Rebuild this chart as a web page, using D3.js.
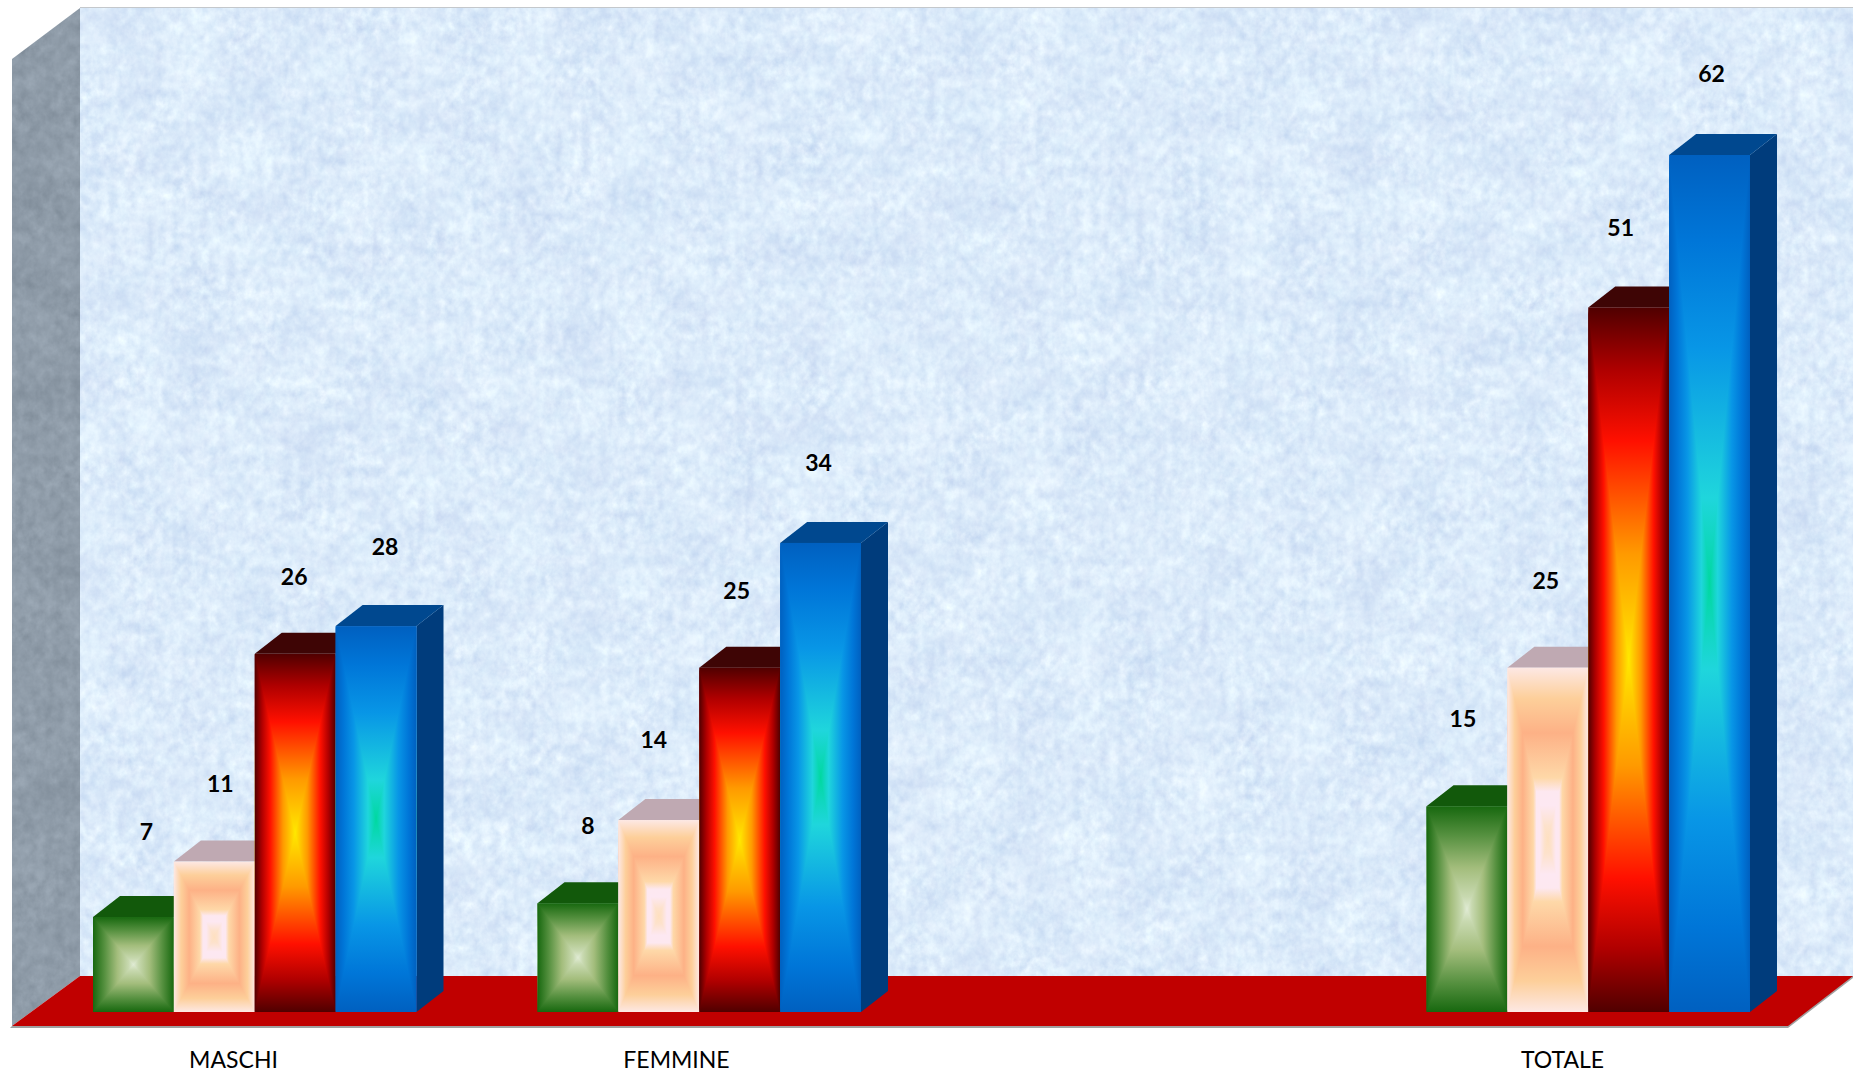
<!DOCTYPE html>
<html>
<head>
<meta charset="utf-8">
<script src="https://cdn.jsdelivr.net/npm/d3@7"></script>
<style>
    html, body { margin: 0; padding: 0; background: #fff; }
    svg { display: block; }
    text { font-family: Lato, "Open Sans", sans-serif; fill: #000; }
</style>
</head>
<body>
<script>
// the third category is empty in the source chart, that is the hole before TOTALE
let categories = ["MASCHI", "FEMMINE", "", "TOTALE"];
let seriesKeys = ["verde", "pesca", "fuoco", "azzurro"];
let verdeValues = [7, 8, null, 15];
let pescaValues = [11, 14, null, 25];
let fuocoValues = [26, 25, null, 51];
let azzurroValues = [28, 34, null, 62];
let valueDomain = [0, 62];

let width = 1853, height = 1074;
let depthX = 27, depthY = 21;
let floorFront = 1026, floorBack = 976, barBase = 1012;
let wallLeft = 12, wallBack = 80, wallTop = 8, wallTopFront = 59;
let groupOffset = 81, groupWidth = 323.5;

let styles = {
    verde: {
        stops: [[0, "#e0ebd4"], [0.12, "#c8d9b0"], [0.4, "#a3bd7c"], [0.72, "#55903f"], [1, "#17680f"]],
        top: "#12590b", side: "#0f4a09"
    },
    pesca: {
        stops: [[0, "#fee0c0"], [0.08, "#fde2cc"], [0.2, "#fde8f2"], [0.28, "#fde8f0"], [0.36, "#fed8a8"], [0.62, "#fdb186"], [0.82, "#fdcf9a"], [1, "#fde8e4"]],
        top: "#bfa9b2", side: "#a8949c"
    },
    fuoco: {
        stops: [[0, "#ffe800"], [0.3, "#ff9a00"], [0.62, "#ff1000"], [0.82, "#b00000"], [1, "#500000"]],
        top: "#3e0505", side: "#2e0303"
    },
    azzurro: {
        stops: [[0, "#00d8a0"], [0.2, "#1fd6dc"], [0.55, "#0896e6"], [0.8, "#0076d8"], [1, "#0060c0"]],
        top: "#00488f", side: "#003c7c"
    }
};

// data labels were dragged by hand in the original, [dx, dy] from the bar centre / top
let labelNudge = {
    verde: [[13, -85], [10, -77], null, [-4, -87]],
    pesca: [[6, -78], [-5, -80], null, [-2, -87]],
    fuoco: [[-1, -77], [-3, -77], null, [-8, -80]],
    azzurro: [[9, -79], [-2, -80], null, [2, -81]]
};

let seriesValues = { verde: verdeValues, pesca: pescaValues, fuoco: fuocoValues, azzurro: azzurroValues };

let x0 = d3.scaleBand().domain(categories).range([wallLeft, 1790]);
let x1 = d3.scaleBand().domain(seriesKeys).range([0, groupWidth]);
// labels sit on a slightly tighter spacing than the bars
let xLabel = d3.scaleBand().domain(categories).range([wallLeft, 1784]);
let y = d3.scaleLinear().domain(valueDomain).range([1014, 155]);

let svg = d3.select("body").append("svg").attr("width", width).attr("height", height);
let defs = svg.append("defs");

let addPaper = (id, rgb) => {
    let f = defs.append("filter").attr("id", id)
        .attr("filterUnits", "userSpaceOnUse")
        .attr("x", 0).attr("y", 0).attr("width", width).attr("height", height)
        .attr("color-interpolation-filters", "sRGB");
    f.append("feTurbulence").attr("type", "fractalNoise").attr("baseFrequency", "0.018 0.022")
        .attr("numOctaves", 3).attr("seed", 4).attr("result", "blotch");
    f.append("feTurbulence").attr("type", "fractalNoise").attr("baseFrequency", "0.11 0.09")
        .attr("numOctaves", 4).attr("seed", 11).attr("result", "fibre");
    f.append("feComposite").attr("in", "blotch").attr("in2", "fibre")
        .attr("operator", "arithmetic").attr("k1", 0).attr("k2", 0.4).attr("k3", 0.6).attr("k4", 0)
        .attr("result", "mix");
    f.append("feColorMatrix").attr("in", "mix").attr("type", "matrix").attr("values", rgb).attr("result", "paper");
    f.append("feComposite").attr("in", "paper").attr("in2", "SourceAlpha").attr("operator", "in");
};
addPaper("paperWall", "0.26 0.04 0 0 0.71  0.22 0 0 0 0.81  0.10 0 0 0 0.93  0 0 0 0 1");
addPaper("paperSide", "0.18 0 0 0 0.47  0.18 0 0 0 0.52  0.18 0 0 0 0.57  0 0 0 0 1");

// one pair of linear gradients per bar, the corners make the mitred "path" look
let addGradient = (id, stops, axis, a, b) => {
    let g = defs.append("linearGradient").attr("id", id).attr("gradientUnits", "userSpaceOnUse");
    if (axis == "x") g.attr("x1", a).attr("x2", b).attr("y1", 0).attr("y2", 0);
    else g.attr("y1", a).attr("y2", b).attr("x1", 0).attr("x2", 0);
    g.selectAll("stop").data(stops).enter().append("stop")
        .attr("offset", d => d[0]).attr("stop-color", d => d[1]);
};
let mirror = (stops) => {
    let rev = stops.map(d => [(1 - d[0]) / 2, d[1]]).reverse();
    let fwd = stops.slice(1).map(d => [(1 + d[0]) / 2, d[1]]);
    return rev.concat(fwd);
};

let poly = (pts) => pts.map(p => p.join(",")).join(" ");

// walls and floor
svg.append("rect").attr("x", wallBack).attr("y", wallTop)
    .attr("width", width - wallBack).attr("height", floorBack - wallTop)
    .attr("filter", "url(#paperWall)");
svg.append("line").attr("x1", wallBack).attr("x2", width).attr("y1", wallTop - 0.5).attr("y2", wallTop - 0.5)
    .attr("stroke", "#c4c8cc").attr("stroke-width", 1);
svg.append("polygon")
    .attr("points", poly([[wallLeft, wallTopFront], [wallBack, wallTop], [wallBack, floorBack], [wallLeft, floorFront]]))
    .attr("filter", "url(#paperSide)");
svg.append("polygon")
    .attr("points", poly([[wallLeft - 2, floorFront + 2], [width - 65, floorFront + 2], [width, floorBack + 2], [width, floorBack], [wallLeft, floorFront]]))
    .attr("fill", "#a0a0a0");
svg.append("polygon")
    .attr("points", poly([[wallLeft, floorFront], [wallBack, floorBack], [width, floorBack], [width - 65, floorFront]]))
    .attr("fill", "#c00000");

// bars
let bars = [];
categories.forEach((c, ci) => {
    seriesKeys.forEach(k => {
        let v = seriesValues[k][ci];
        if (v == null) return;
        bars.push({ category: c, ci: ci, key: k, value: v });
    });
});

let gBars = svg.append("g").classed("bars", true);
let gBar = gBars.selectAll("g.bar").data(bars).enter().append("g")
    .attr("class", d => `bar ${d.key}`)
    .each(function (d, i) {
        let g = d3.select(this);
        let style = styles[d.key];
        let l = x0(d.category) + groupOffset + x1(d.key), w = x1.bandwidth();
        let r = l + w, t = y(d.value), b = barBase;
        let stops = mirror(style.stops);
        addGradient(`h${i}`, stops, "x", l, r);
        addGradient(`v${i}`, stops, "y", t, b);
        g.append("polygon")
            .attr("points", poly([[r, t], [r + depthX, t - depthY], [r + depthX, b - depthY], [r, b]]))
            .attr("fill", style.side);
        g.append("polygon")
            .attr("points", poly([[l, t], [l + depthX, t - depthY], [r + depthX, t - depthY], [r, t]]))
            .attr("fill", style.top);
        g.append("rect").attr("x", l).attr("y", t).attr("width", w).attr("height", b - t)
            .attr("fill", `url(#v${i})`);
        let cx = l + w / 2, cy = (t + b) / 2;
        g.append("polygon").attr("points", poly([[l, t], [cx, cy], [l, b]])).attr("fill", `url(#h${i})`);
        g.append("polygon").attr("points", poly([[r, t], [cx, cy], [r, b]])).attr("fill", `url(#h${i})`);
    });

// value labels
svg.append("g").classed("labels", true)
    .selectAll("text").data(bars).enter().append("text")
    .attr("x", d => x0(d.category) + groupOffset + x1(d.key) + x1.bandwidth() / 2 + labelNudge[d.key][d.ci][0])
    .attr("y", d => y(d.value) + labelNudge[d.key][d.ci][1])
    .attr("dy", "0.36em")
    .attr("text-anchor", "middle")
    .attr("font-size", 23)
    .attr("font-weight", 700)
    .text(d => d.value);

// category axis, labels only
svg.append("g").classed("axis", true)
    .selectAll("text").data(categories.filter(c => c != "")).enter().append("text")
    .attr("x", d => xLabel(d) + xLabel.bandwidth() / 2)
    .attr("y", 1068)
    .attr("text-anchor", "middle")
    .attr("font-size", 23)
    .text(d => d);
</script>
</body>
</html>
